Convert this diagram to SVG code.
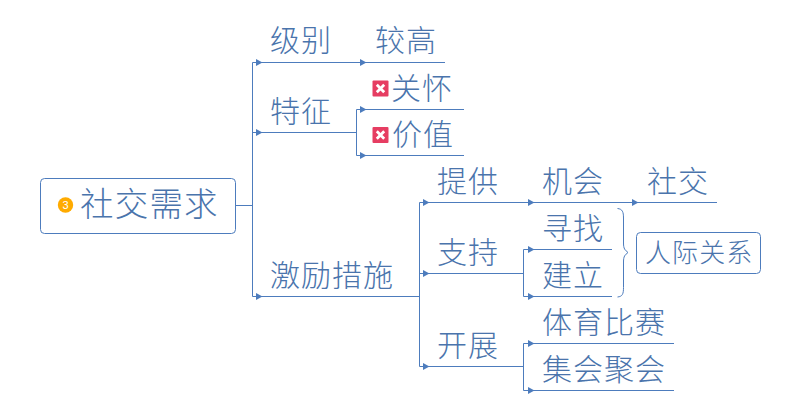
<svg xmlns="http://www.w3.org/2000/svg" width="800" height="414" viewBox="0 0 800 414">
<style>
.l{fill:none;stroke:#4d7cbd;stroke-width:1}
.b{fill:#fff;stroke:#4d7cbd;stroke-width:1}
.a{fill:#4d7cbd}
text{font-family:"Noto Sans CJK SC","Noto Sans CJK TC",sans-serif;font-weight:300;fill:#4a74ac}
.t{font-size:30px;letter-spacing:1px}
.r{font-size:33.500px;letter-spacing:1.200px}
.s{font-size:26px;letter-spacing:1.100px}
</style>
<defs>
<path id="ah" class="a" d="M0-3.500L6.500 0L0 3.500Z"/>
<g id="x"><rect x="-8" y="-8" width="16" height="16" rx="1" fill="#e63d62"/><path d="M-3.700-3.700L3.700 3.700M3.700-3.700L-3.700 3.700" stroke="#fff" stroke-width="2.800"/></g>
</defs>
<g id="connectors">
<path class="l" d="M235.500 205.500H252.500M252.500 62.500V296.500M252.500 62.500H360M360 62.500H445M252.500 132.500H356.500M356.500 109.500V155.500M356.500 109.500H464M356.500 155.500H464M252.500 296.500H419.500M419.500 202.500V366.500M419.500 202.500H525M525 202.500H632M632 202.500H717M419.500 273.500H523.500M523.500 249.500V296.500M523.500 249.500H612M523.500 296.500H612M419.500 366.500H523.500M523.500 343.500V390.500M523.500 343.500H674M523.500 390.500H674"/>
<path class="l" d="M617.500 208.500C622.500 209 623.500 212 623.500 218V243C623.500 249 625 250 628 252.500C625 255 623.500 256 623.500 262V287.500C623.500 294 622.500 296.500 617.500 297"/>
<use href="#ah" x="256" y="62.500"/><use href="#ah" x="360" y="62.500"/><use href="#ah" x="256" y="132.500"/><use href="#ah" x="360" y="109.500"/><use href="#ah" x="360" y="155.500"/><use href="#ah" x="256" y="296.500"/><use href="#ah" x="423" y="202.500"/><use href="#ah" x="528" y="202.500"/><use href="#ah" x="632" y="202.500"/><use href="#ah" x="423" y="273.500"/><use href="#ah" x="528" y="249.500"/><use href="#ah" x="528" y="296.500"/><use href="#ah" x="423" y="366.500"/><use href="#ah" x="528" y="343.500"/><use href="#ah" x="528" y="390.500"/>
</g>
<g id="root"><rect class="b" x="40.500" y="178.500" width="195" height="55" rx="4"/><circle cx="65.500" cy="205" r="7.700" fill="#ffab00"/><text x="65.500" y="209" text-anchor="middle" style="font-size:11px;fill:#fff;font-family:'Liberation Sans',sans-serif;font-weight:400">3</text><text class="r" x="80" y="216">社交需求</text></g>
<g id="n-jibie"><text class="t" x="270" y="51">级别</text></g>
<g id="n-jiaogao"><text class="t" x="375" y="51">较高</text></g>
<g id="n-tezheng"><text class="t" x="270" y="122">特征</text></g>
<g id="n-guanhuai"><use href="#x" x="380.500" y="88.500"/><text class="t" x="391" y="99">关怀</text></g>
<g id="n-jiazhi"><use href="#x" x="380.500" y="135"/><text class="t" x="392" y="145">价值</text></g>
<g id="n-jili"><text class="t" x="270" y="286">激励措施</text></g>
<g id="n-tigong"><text class="t" x="437" y="192">提供</text></g>
<g id="n-jihui"><text class="t" x="542" y="192">机会</text></g>
<g id="n-shejiao"><text class="t" x="647" y="192">社交</text></g>
<g id="n-zhichi"><text class="t" x="437" y="263">支持</text></g>
<g id="n-xunzhao"><text class="t" x="542" y="239">寻找</text></g>
<g id="n-jianli"><text class="t" x="542" y="286">建立</text></g>
<g id="n-kaizhan"><text class="t" x="437" y="356">开展</text></g>
<g id="n-tiyu"><text class="t" x="542" y="333">体育比赛</text></g>
<g id="n-jihui2"><text class="t" x="542" y="380">集会聚会</text></g>
<g id="n-renji"><rect class="b" x="636.500" y="232.500" width="124" height="41" rx="4"/><text class="s" x="645" y="262">人际关系</text></g>
</svg>
